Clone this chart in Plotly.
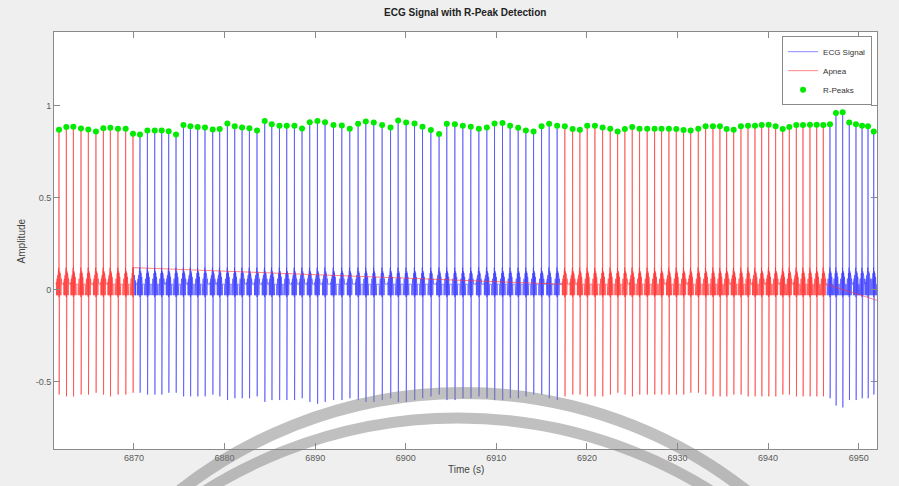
import plotly.graph_objects as go

# ---------------- data ----------------
beat_times = [
    6861.72, 6862.53, 6863.31, 6864.15, 6864.96, 6865.80, 6866.62, 6867.39, 6868.23, 6869.08,
    6869.89, 6870.66, 6871.48, 6872.29, 6873.06, 6873.83, 6874.64, 6875.46, 6876.23, 6877.03,
    6877.84, 6878.69, 6879.46, 6880.31, 6881.12, 6881.93, 6882.74, 6883.58, 6884.43, 6885.21,
    6886.06, 6886.86, 6887.71, 6888.55, 6889.40, 6890.25, 6891.09, 6892.02, 6892.94, 6893.82,
    6894.74, 6895.59, 6896.47, 6897.39, 6898.32, 6899.16, 6900.04, 6900.97, 6901.85, 6902.77,
    6903.68, 6904.53, 6905.42, 6906.30, 6907.18, 6908.07, 6908.95, 6909.80, 6910.68, 6911.52,
    6912.41, 6913.26, 6914.11, 6914.99, 6915.83, 6916.71, 6917.56, 6918.42, 6919.22, 6920.03,
    6920.88, 6921.73, 6922.57, 6923.39, 6924.19, 6925.00, 6925.81, 6926.65, 6927.47, 6928.24,
    6929.05, 6929.86, 6930.67, 6931.45, 6932.29, 6933.10, 6933.91, 6934.68, 6935.42, 6936.20,
    6937.00, 6937.78, 6938.55, 6939.29, 6940.06, 6940.83, 6941.61, 6942.34, 6943.11, 6943.85,
    6944.62, 6945.36, 6946.09, 6946.83, 6947.49, 6948.23, 6948.96, 6949.70, 6950.37, 6951.03,
    6951.66,
]

r_peaks = [
    0.870, 0.884, 0.886, 0.877, 0.871, 0.860, 0.878, 0.880, 0.875, 0.875,
    0.848, 0.844, 0.866, 0.866, 0.866, 0.862, 0.844, 0.895, 0.889, 0.884,
    0.882, 0.871, 0.873, 0.904, 0.888, 0.882, 0.878, 0.866, 0.917, 0.900,
    0.891, 0.891, 0.891, 0.877, 0.911, 0.917, 0.911, 0.895, 0.893, 0.875,
    0.902, 0.915, 0.909, 0.895, 0.882, 0.920, 0.909, 0.904, 0.886, 0.868,
    0.846, 0.902, 0.899, 0.891, 0.886, 0.875, 0.882, 0.904, 0.906, 0.891,
    0.880, 0.866, 0.860, 0.889, 0.902, 0.891, 0.888, 0.873, 0.870, 0.891,
    0.891, 0.882, 0.875, 0.860, 0.873, 0.884, 0.875, 0.875, 0.875, 0.875,
    0.875, 0.873, 0.868, 0.866, 0.875, 0.889, 0.889, 0.888, 0.873, 0.870,
    0.888, 0.891, 0.891, 0.895, 0.897, 0.888, 0.873, 0.884, 0.895, 0.895,
    0.897, 0.897, 0.895, 0.899, 0.960, 0.965, 0.909, 0.899, 0.891, 0.888,
    0.860,
]

s_troughs = [
    -0.57, -0.58, -0.58, -0.57, -0.57, -0.56, -0.57, -0.58, -0.57, -0.57, -0.56,
    -0.56, -0.57, -0.57, -0.57, -0.56, -0.56, -0.58, -0.58, -0.58, -0.58, -0.57,
    -0.58, -0.60, -0.59, -0.59, -0.59, -0.58, -0.61, -0.60, -0.60, -0.60, -0.60,
    -0.59, -0.61, -0.62, -0.61, -0.60, -0.60, -0.59, -0.60, -0.61, -0.61, -0.60,
    -0.59, -0.61, -0.61, -0.60, -0.59, -0.58, -0.57, -0.60, -0.60, -0.59, -0.59,
    -0.58, -0.59, -0.60, -0.60, -0.59, -0.59, -0.58, -0.57, -0.57, -0.59, -0.60,
    -0.58, -0.57, -0.57, -0.58, -0.58, -0.58, -0.57, -0.56, -0.57, -0.58, -0.57,
    -0.57, -0.57, -0.57, -0.57, -0.57, -0.57, -0.56, -0.56, -0.57, -0.58, -0.58,
    -0.58, -0.57, -0.57, -0.58, -0.58, -0.58, -0.58, -0.58, -0.57, -0.57, -0.58,
    -0.58, -0.58, -0.58, -0.58,
    -0.59, -0.63, -0.64, -0.60, -0.60, -0.59, -0.59, -0.57,
]

# one heartbeat (offset from the R peak, amplitude);
# "R" and "S" take the per-beat values above
beat_offsets = [-0.33, -0.31, -0.29, -0.27, -0.25, -0.23, -0.21, -0.19, -0.17, -0.15,
                -0.13, -0.11, -0.09, -0.07, -0.05, -0.035, -0.02, -0.01, 0.0, 0.02,
                0.04, 0.06, 0.08, 0.10, 0.12, 0.14, 0.16, 0.18, 0.20, 0.22,
                0.24, 0.26, 0.28, 0.30, 0.31]
beat_shape = [0.03, -0.03, 0.04, -0.03, 0.05, -0.03, 0.06, -0.03, 0.07, -0.03,
              0.08, -0.03, 0.09, -0.03, 0.11, -0.03, 0.12, -0.04, "R", "S",
              0.12, -0.03, 0.10, -0.03, 0.09, -0.03, 0.08, -0.03, 0.07, -0.03,
              0.06, -0.03, 0.05, -0.03, 0.03]

apnea_starts = [6861.0, 6917.2]
apnea_ends = [6869.94, 6946.45]
apnea_next_t = [6956.0]      # start of the next apnea segment (off to the right)
apnea_next_v = [-0.12]

x_ticks = [6870, 6880, 6890, 6900, 6910, 6920, 6930, 6940, 6950]
y_ticks = [-0.5, 0, 0.5, 1]
y_tick_text = ["-0.5", "0", "0.5", "1"]

# ---------------- build the traces ----------------
sig_t, sig_v = [], []
for bt, rp, st in zip(beat_times, r_peaks, s_troughs):
    for off, val in zip(beat_offsets, beat_shape):
        sig_t.append(round(bt + off, 4))
        sig_v.append(rp if val == "R" else st if val == "S" else val)

in_apnea = [any(a <= t <= b for a, b in zip(apnea_starts, apnea_ends)) for t in sig_t]

# blue line: the signal outside apnea (kept joined to the red at the edges)
n = len(sig_t)
blue_v = []
for i in range(n):
    keep = (not in_apnea[i]) or (i > 0 and not in_apnea[i - 1]) or (i < n - 1 and not in_apnea[i + 1])
    blue_v.append(sig_v[i] if keep else None)

ap_t = [t for t, m in zip(sig_t, in_apnea) if m] + apnea_next_t
ap_v = [v for v, m in zip(sig_v, in_apnea) if m] + apnea_next_v

FONT = "Liberation Sans, Arial, Helvetica, sans-serif"

fig = go.Figure()
fig.add_trace(go.Scatter(x=sig_t, y=blue_v, mode="lines", name="ECG Signal",
                         connectgaps=False,
                         line=dict(color="rgb(60,60,255)", width=0.6)))
fig.add_trace(go.Scatter(x=ap_t, y=ap_v, mode="lines", name="Apnea",
                         line=dict(color="rgb(255,50,50)", width=0.6)))
fig.add_trace(go.Scatter(x=beat_times, y=r_peaks, mode="markers", name="R-Peaks",
                         marker=dict(color="rgb(0,235,0)", size=6, symbol="circle")))

axis_common = dict(showgrid=False, zeroline=False, showline=True, mirror="ticks",
                   linecolor="#8a8a8a", linewidth=1, ticks="inside", ticklen=6,
                   tickcolor="#8a8a8a", tickfont=dict(size=9, color="#5a5a5a", family=FONT))

fig.update_layout(
    width=899, height=486, autosize=False,
    margin=dict(l=54, r=22, t=32, b=37),
    paper_bgcolor="#efefef", plot_bgcolor="white",
    font=dict(family=FONT),
    title=dict(text="<b>ECG Signal with R-Peak Detection</b>", x=0.5175, xanchor="center",
               y=0.975, yanchor="middle", font=dict(size=10, color="#222222")),
    xaxis=dict(range=[6861.17, 6952.02], tickvals=x_ticks, **axis_common),
    yaxis=dict(range=[-0.866, 1.401], tickvals=y_ticks, ticktext=y_tick_text, **axis_common),
    legend=dict(x=0.994, xanchor="right", y=0.99, yanchor="top",
                bgcolor="white", bordercolor="#8a8a8a", borderwidth=1,
                font=dict(size=8, color="#333333", family=FONT),
                tracegroupgap=0, itemwidth=30),
    showlegend=True,
    annotations=[
        dict(text="Time (s)", xref="paper", yref="paper", x=0.5, y=-0.05,
             xanchor="center", yanchor="middle", showarrow=False,
             font=dict(size=10, color="#444444", family=FONT)),
        dict(text="Amplitude", xref="paper", yref="paper", x=-0.039, y=0.5,
             xanchor="center", yanchor="middle", textangle=-90, showarrow=False,
             font=dict(size=10, color="#444444", family=FONT)),
    ],
    shapes=[
        dict(type="circle", xref="paper", yref="paper", x0=-0.0608, x1=1.0547,
             y0=-2.067, y1=0.1343, line=dict(color="rgba(130,130,130,0.5)", width=12),
             layer="above"),
        dict(type="circle", xref="paper", yref="paper", x0=-0.0863, x1=1.068,
             y0=-2.204, y1=0.0743, line=dict(color="rgba(130,130,130,0.5)", width=11),
             layer="above"),
    ],
)

fig.write_html("out.html", config={"displayModeBar": False},
               post_script="document.body.style.margin='0px';document.body.style.overflow='hidden';")
